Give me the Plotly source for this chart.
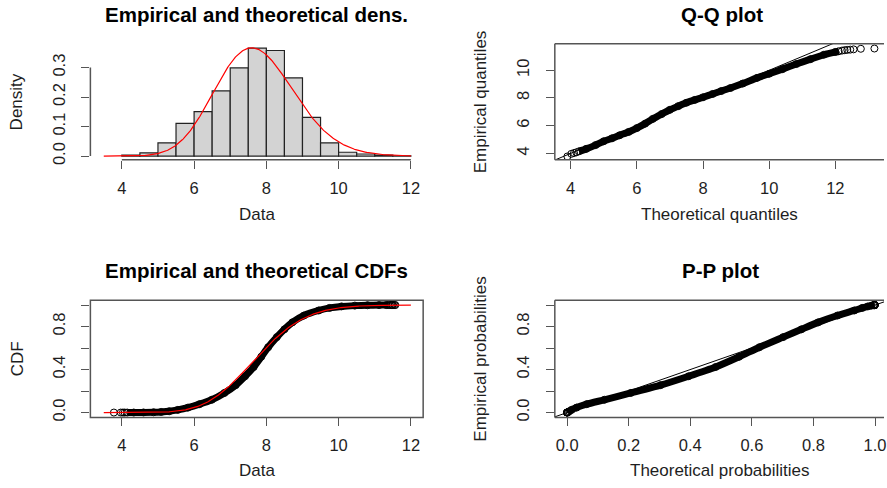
import math
import numpy as np
import plotly.graph_objects as go

# ---------------- data ----------------
# Histogram of the sample: bin edges and density per bin
bin_edges = [4.0, 4.5, 5.0, 5.5, 6.0, 6.5, 7.0, 7.5, 8.0, 8.5,
             9.0, 9.5, 10.0, 10.5, 11.0, 11.5, 12.0]
bin_density = [0.003, 0.011, 0.045, 0.111, 0.151, 0.221, 0.299, 0.366,
               0.358, 0.265, 0.131, 0.045, 0.013, 0.007, 0.003, 0.001]

# Fitted gamma distribution
gamma_shape = 50.0
gamma_scale = 0.155

# Quantile pairs (theoretical, empirical): isolated low observations,
# the dense body of the sample, isolated high observations
low_theo = [3.90, 4.02, 4.10, 4.17]
low_emp = [3.78, 3.97, 4.03, 4.08]
body_theo = [4.25, 4.47, 4.75, 5.00, 5.25, 5.48, 5.75, 6.00, 6.25, 6.48,
             6.75, 7.00, 7.25, 7.49, 7.75, 8.00, 8.29, 8.55, 8.83, 9.20,
             9.63, 10.00, 10.40, 10.82, 11.25, 11.65, 12.00, 12.10]
body_emp = [4.15, 4.33, 4.60, 4.88, 5.09, 5.31, 5.55, 5.83, 6.15, 6.49,
            6.84, 7.15, 7.41, 7.65, 7.86, 8.05, 8.29, 8.50, 8.72, 9.04,
            9.45, 9.75, 10.08, 10.45, 10.80, 11.12, 11.32, 11.37]
high_theo = [12.20, 12.28, 12.36, 12.45, 12.55, 12.77, 13.18]
high_emp = [11.42, 11.45, 11.47, 11.49, 11.51, 11.55, 11.57]

x_ticks = [4, 6, 8, 10, 12]
dens_ticks = [0.0, 0.1, 0.2, 0.3]
prob_ticks = [0.0, 0.2, 0.4, 0.6, 0.8, 1.0]
prob_labels = ["0.0", "", "0.4", "", "0.8", ""]
pp_x_labels = ["0.0", "0.2", "0.4", "0.6", "0.8", "1.0"]

# ---------------- fitted gamma helpers ----------------
_grid = np.linspace(0.05, 30.0, 60000)


def gamma_pdf(x):
    x = np.asarray(x, dtype=float)
    lp = ((gamma_shape - 1) * np.log(x) - x / gamma_scale
          - math.lgamma(gamma_shape) - gamma_shape * math.log(gamma_scale))
    return np.exp(lp)


_pdf = gamma_pdf(_grid)
_cdf = np.concatenate([[0.0], np.cumsum((_pdf[1:] + _pdf[:-1]) / 2 * np.diff(_grid))])


def gamma_cdf(x):
    return np.interp(np.asarray(x, dtype=float), _grid, _cdf)


# ---------------- layout geometry (pixels) ----------------
W, H = 887, 488


def xd(a, b):
    return [a / W, min(b / W, 1.0)]


def yd(top, bottom):
    return [1 - bottom / H, 1 - top / H]


LEFT = (90.7, 424.6)
RIGHT = (556.7, 887.0)
TOP = (44.3, 161.5)
BOT = (303.3, 421.7)

INK = "#1e1e1e"
AX = "#555555"
FONT = "Liberation Sans, Arial, sans-serif"
TICKF = dict(family=FONT, size=16.5, color=INK)

fig = go.Figure()

# ---- panel 1: histogram + fitted density ----
centers = [(bin_edges[i] + bin_edges[i + 1]) / 2 for i in range(len(bin_density))]
widths = [bin_edges[i + 1] - bin_edges[i] for i in range(len(bin_density))]
fig.add_trace(go.Bar(x=centers, y=bin_density, width=widths,
                     marker=dict(color="#D3D3D3", line=dict(color="#222222", width=1.2)),
                     xaxis="x", yaxis="y", hoverinfo="skip"))
xc = np.linspace(3.5, 12.0, 400)
fig.add_trace(go.Scatter(x=xc, y=gamma_pdf(xc), mode="lines",
                         line=dict(color="#FF0000", width=1.2),
                         xaxis="x", yaxis="y", hoverinfo="skip"))

all_theo = low_theo + body_theo + high_theo
all_emp = low_emp + body_emp + high_emp

MK = dict(symbol="circle-open", size=7, color="black", line=dict(width=1, color="black"))
BAND = dict(color="black", width=7, shape="spline", smoothing=0.6)


def sample_traces(xb, yb, xa, ya, xa_name, ya_name):
    fig.add_trace(go.Scatter(x=xb, y=yb, mode="lines", line=BAND,
                             xaxis=xa_name, yaxis=ya_name, hoverinfo="skip"))
    fig.add_trace(go.Scatter(x=xa, y=ya, mode="markers", marker=MK,
                             xaxis=xa_name, yaxis=ya_name, hoverinfo="skip"))


# ---- panel 2: Q-Q plot ----
fig.add_trace(go.Scatter(x=[2, 15], y=[2, 15], mode="lines",
                         line=dict(color="black", width=1),
                         xaxis="x2", yaxis="y2", hoverinfo="skip"))
sample_traces(body_theo, body_emp, all_theo, all_emp, "x2", "y2")

# ---- panel 3: empirical vs fitted CDF ----
sample_traces(body_emp, gamma_cdf(body_theo), all_emp, gamma_cdf(all_theo), "x3", "y3")
fig.add_trace(go.Scatter(x=xc, y=gamma_cdf(xc), mode="lines",
                         line=dict(color="#FF0000", width=1.2),
                         xaxis="x3", yaxis="y3", hoverinfo="skip"))

# ---- panel 4: P-P plot ----
fig.add_trace(go.Scatter(x=[-0.5, 1.5], y=[-0.5, 1.5], mode="lines",
                         line=dict(color="black", width=1),
                         xaxis="x4", yaxis="y4", hoverinfo="skip"))
sample_traces(gamma_cdf(body_emp), gamma_cdf(body_theo),
              gamma_cdf(all_emp), gamma_cdf(all_theo), "x4", "y4")


def axis(domain, rng, vals, text=None, angle=0, anchor=None, standoff=6):
    d = dict(domain=domain, range=rng, tickvals=vals,
             ticktext=text if text is not None else [str(v) for v in vals],
             ticks="outside", ticklen=8, tickwidth=1.3, tickcolor=AX,
             showline=False, showgrid=False, zeroline=False,
             tickfont=TICKF, tickangle=angle, fixedrange=True,
             ticklabelstandoff=standoff, ticklabeloverflow="allow")
    if anchor:
        d["anchor"] = anchor
    return d


fig.update_layout(
    width=W, height=H, margin=dict(l=0, r=0, t=0, b=0),
    paper_bgcolor="white", plot_bgcolor="white", showlegend=False,
    xaxis=axis(xd(*LEFT), [3.13, 12.34], x_ticks, anchor="y", standoff=5),
    yaxis=axis(yd(*TOP), [-0.0128, 0.3805], dens_ticks,
               ["0.0", "0.1", "0.2", "0.3"], angle=-90, anchor="x", standoff=10),
    xaxis2=axis(xd(*RIGHT), [3.52, 13.47], x_ticks, anchor="y2", standoff=5),
    yaxis2=axis(yd(*TOP), [3.536, 11.907], [4, 6, 8, 10], angle=-90, anchor="x2", standoff=10),
    xaxis3=axis(xd(*LEFT), [3.13, 12.34], x_ticks, anchor="y3", standoff=5),
    yaxis3=axis(yd(*BOT), [-0.045, 1.045], prob_ticks, prob_labels, angle=-90,
                anchor="x3", standoff=10),
    xaxis4=axis(xd(*RIGHT), [-0.04, 1.029], prob_ticks, pp_x_labels, anchor="y4", standoff=5),
    yaxis4=axis(yd(*BOT), [-0.045, 1.045], prob_ticks, prob_labels, angle=-90,
                anchor="x4", standoff=10),
)

# ---- frames and axis lines ----
LINE = dict(color=AX, width=1.5)
shapes = [
    # histogram panel: axis lines span the tick range only
    dict(type="line", xref="x", yref="y domain", x0=4, x1=12, y0=0, y1=0, line=LINE),
    dict(type="line", xref="x domain", yref="y", x0=0, x1=0, y0=0, y1=0.3, line=LINE),
    # CDF panel: full frame
    dict(type="rect", xref="x3 domain", yref="y3 domain", x0=0, x1=1, y0=0, y1=1, line=LINE),
]
for xn, yn in (("x2", "y2"), ("x4", "y4")):
    shapes += [
        dict(type="line", xref=f"{xn} domain", yref=f"{yn} domain", x0=0, x1=0, y0=0, y1=1, line=LINE),
        dict(type="line", xref=f"{xn} domain", yref=f"{yn} domain", x0=0, x1=1, y0=0, y1=0, line=LINE),
        dict(type="line", xref=f"{xn} domain", yref=f"{yn} domain", x0=0, x1=1, y0=1, y1=1, line=LINE),
    ]
fig.update_layout(shapes=shapes)


# ---- titles and axis labels ----
def label(text, px, py, size=17, bold=False, angle=0):
    fig.add_annotation(text=f"<b>{text}</b>" if bold else text,
                       x=px / W, y=1 - py / H, xref="paper", yref="paper",
                       xanchor="center", yanchor="middle", showarrow=False,
                       textangle=angle,
                       font=dict(family=FONT, size=size, color="black" if bold else INK))


label("Empirical and theoretical dens.", 257.5, 15, size=20.5, bold=True)
label("Q-Q plot", 724, 15, size=20.5, bold=True)
label("Empirical and theoretical CDFs", 257, 273.5, size=20.5, bold=True)
label("P-P plot", 723, 273.5, size=20.5, bold=True)

label("Data", 257.5, 216.5)
label("Theoretical quantiles", 722, 216.5)
label("Data", 257.5, 475.5)
label("Theoretical probabilities", 722, 475.5)

label("Density", 17.5, 103, angle=-90)
label("Empirical quantiles", 482.5, 102.5, angle=-90)
label("CDF", 17.5, 362.5, angle=-90)
label("Empirical probabilities", 482.5, 362.5, angle=-90)

fig.write_html("out.html")
